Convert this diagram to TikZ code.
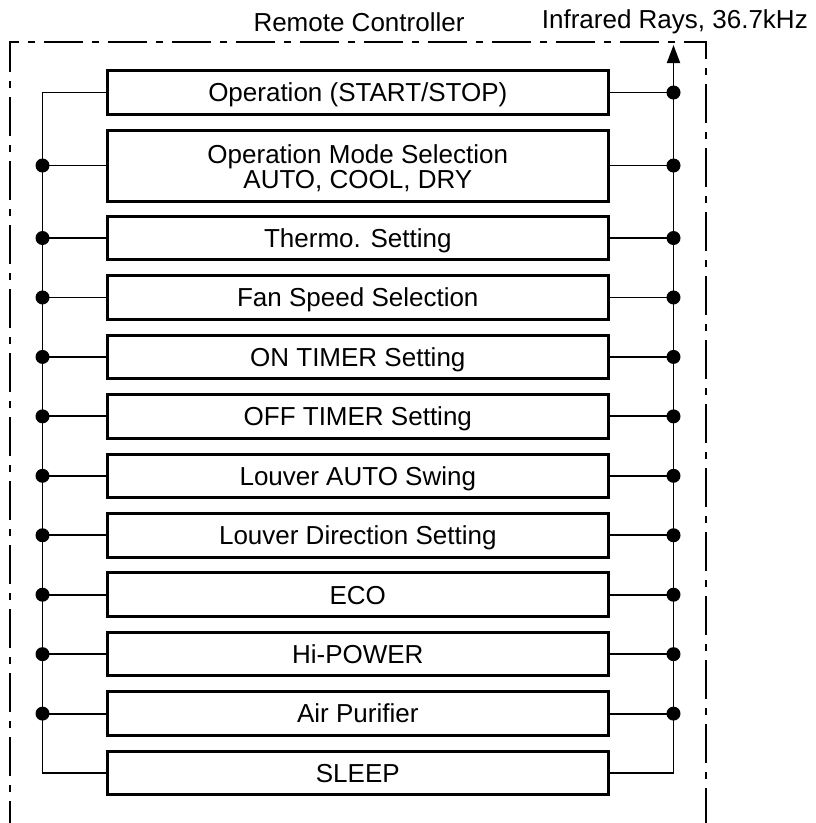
\documentclass[tikz,border=0pt]{standalone}
\usepackage{fontspec}
\setmainfont{Liberation Sans}
\usetikzlibrary{arrows.meta}
\begin{document}
\begin{tikzpicture}[x=1pt,y=-1pt,
  box/.style={draw, line width=3pt, minimum width=501pt, minimum height=43.5pt,
    inner sep=0pt, text height=18.6pt, text depth=0pt,
    font=\fontsize{26}{25.5}\selectfont},
  lbl/.style={inner sep=0pt, font=\fontsize{26}{25.5}\selectfont},
  conn/.style={line width=1.9pt, line join=miter},
  frame/.style={line width=2.8pt, dash pattern=on 39pt off 9pt on 7pt off 9pt, dash phase=17pt}]
\useasboundingbox (0,0) rectangle (815,823);
% frame (open at the bottom)
\draw[frame] (10,823) -- (10,42) -- (706,42) -- (706,823);
% titles
\node[lbl, anchor=base] (title) at (359,31.5) {Remote Controller};
\node[lbl, anchor=base east] (ir) at (808,28.3) {Infrared Rays, 36.7kHz};
% boxes
\node[box] (b1) at (357.8,92.5) {Operation (START/STOP)};
\node[box, minimum height=71pt, align=center, text height=46.5pt] (b2) at (357.8,165.5) {Operation Mode Selection\\AUTO, COOL, DRY};
\node[box] (b3) at (357.8,238) {Thermo. Setting};
\node[box] (b4) at (357.8,297.45) {Fan Speed Selection};
\node[box] (b5) at (357.8,356.9) {ON TIMER Setting};
\node[box] (b6) at (357.8,416.35) {OFF TIMER Setting};
\node[box] (b7) at (357.8,475.8) {Louver AUTO Swing};
\node[box] (b8) at (357.8,535.25) {Louver Direction Setting};
\node[box] (b9) at (357.8,594.7) {ECO};
\node[box] (b10) at (357.8,654.15) {Hi-POWER};
\node[box] (b11) at (357.8,713.6) {Air Purifier};
\node[box] (b12) at (357.8,773) {SLEEP};
% bus coordinates
\coordinate (lx) at (42.5,0);
\coordinate (rx) at (673.5,0);
\foreach \i in {1,...,12} {
  \coordinate (l\i) at (b\i.west -| lx);
  \coordinate (r\i) at (b\i.east -| rx);
}
\coordinate (tip) at (673.5,45);
% left bus
\draw[conn] (b1.west) -- (l1) -- (l12) -- (b12.west);
\foreach \i in {2,...,11} { \draw[conn] (b\i.west) -- (l\i); }
% right bus with arrow
\draw[conn, -{Triangle[length=18pt,width=13pt]}] (b12.east) -- (r12) -- (tip);
\foreach \i in {1,...,11} { \draw[conn] (b\i.east) -- (r\i); }
% junction dots
\foreach \i in {2,...,11} { \fill (l\i) circle (7pt); }
\foreach \i in {1,...,11} { \fill (r\i) circle (7pt); }
\end{tikzpicture}
\end{document}
